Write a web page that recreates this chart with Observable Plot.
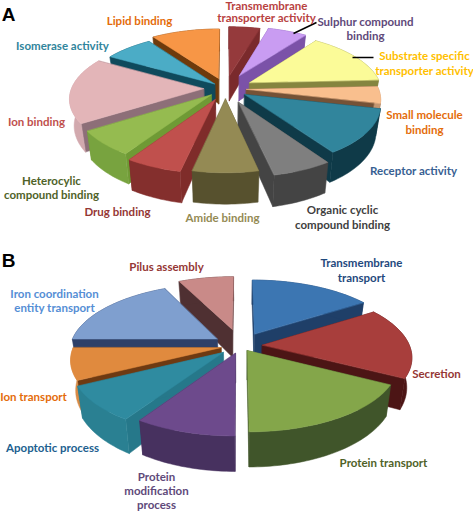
<!DOCTYPE html>
<html><head><meta charset="utf-8">
<script src="https://cdn.jsdelivr.net/npm/d3@7"></script>
<script src="https://cdn.jsdelivr.net/npm/@observablehq/plot@0.6"></script>
<style>html,body{margin:0;padding:0;background:#fff}</style>
</head><body><div id="chart"></div>
<script>
// Panel A: molecular function shares (%)
const categoriesA = ["Transmembrane transporter activity","Sulphur compound binding","Substrate specific transporter activity","Small molecule binding","Receptor activity","Organic cyclic compound binding","Amide binding","Drug binding","Heterocylic compound binding","Ion binding","Isomerase activity","Lipid binding"];
const valuesA = [4.4,5.6,14.2,4.4,11.9,6.1,6.7,5.8,6.7,17.5,6.9,9.7];
const explodeA = [30,33,28,21,23,32,23,26,20,22,15,24];
const topColorsA = ["#953a3c","#c99cf2","#fbfb98","#f9bf8e","#31859c","#7f7f7f","#948a54","#c0504d","#95bb50","#e3b5b8","#4bacc6","#f79646"];
const wallColorsA = ["#7a2a2c","#7b52a8","#85853f","#755236","#0f3a48","#444444","#57512e","#7f2c2a","#6f9a35","#8d6f78","#0f4a5c","#6e3a0c"];
const rimColorsA = ["#7a2a2c","#7b52a8","#85853f","#c49670","#0f3a48","#444444","#57512e","#842f2d","#78a33f","#d2a9ae","#0f4a5c","#6e3a0c"];

// Panel B: biological process shares (%)
const categoriesB = ["Transmembrane transport","Secretion","Protein transport","Protein modification process","Apoptotic process","Ion transport","Iron coordination entity transport","Pilus assembly"];
const valuesB = [15.8,16.9,17.2,9.2,8.3,7.5,17.8,7.2];
const explodeB = [30,22,13,18,23,20,28,38];
const topColorsB = ["#3c76b2","#a83e3c","#84a64a","#6d4a8c","#2f8ba0","#e08a3e","#7f9fcf","#c98a88"];
const wallColorsB = ["#1f3f68","#4c1515","#40552a","#47315f","#26788a","#6e3a12","#2e4068","#4f3032"];
const rimColorsB = ["#1f3f68","#4c1515","#40552a","#47315f","#2a8092","#d88a45","#2e4068","#4f3032"];

// Text of the labels, one row per line
const labelTexts = ["Transmembrane","transporter activity","Sulphur compound","binding","Substrate specific","transporter activity","Small molecule","binding","Receptor activity","Organic cyclic","compound binding","Amide binding","Drug binding","Heterocylic","compound binding","Ion binding","Isomerase activity","Lipid binding","Pilus assembly","Transmembrane","transport","Iron coordination","entity transport","Secretion","Ion transport","Protein transport","Apoptotic process","Protein","modification","process"];
const labelColors = ["#b8423f","#b8423f","#60497a","#60497a","#ffc000","#ffc000","#e46c0a","#e46c0a","#376092","#404040","#404040","#948a54","#953735","#4f6228","#4f6228","#c0504d","#31859c","#e46c0a","#953735","#1f497d","#1f497d","#558ed5","#558ed5","#953735","#e46c0a","#4f6228","#215f8f","#60497a","#60497a","#60497a"];

// Layout (not data)
const labelX = [266,266,365,365,424,424,424,424,413,342,342,222,117,51,51,36,62,139,166,361,361,54,54,436,33,383,52,156,156,156];
const labelY = [6,18,22,36,56,71,115,130,171,210,225,218,212,181,195,122,46,21,267,263,278,294,308,374,397,463,448,477,491,505];
const panelLetters = ["A","B"], letterX = [8,8], letterY = [14,260];
const leaderX1 = [293,352], leaderY1 = [33,57], leaderX2 = [316,373], leaderY2 = [22,57];
const panelA = {cx:225, cy:88, R:132, k:0.45, d:900, h:26};
const panelB = {cx:240, cy:345, R:147, k:0.45, d:900, h:29};

function slices(prefix, values, explode, tops, walls, rims, g) {
  const total = d3.sum(values), rows = [];
  const P = (px, pz, low) => {
    const s = g.d / (g.d - pz);
    return {x: g.cx + px * s * (low ? 0.97 : 1), y: g.cy + pz * g.k * s + (low ? g.h * s : 0)};
  };
  let acc = 0;
  const items = values.map((v, i) => {
    const a0 = acc / total * 2 * Math.PI; acc += v;
    const a1 = acc / total * 2 * Math.PI, m = (a0 + a1) / 2;
    return {i, a0, a1, m, ax: explode[i] * Math.sin(m), az: -explode[i] * Math.cos(m)};
  });
  items.sort((a, b) => -Math.cos(a.m) - -Math.cos(b.m));
  for (const t of items) {
    const n = Math.max(4, Math.ceil((t.a1 - t.a0) * 40)), arc = [];
    for (let j = 0; j <= n; j++) {
      const a = t.a0 + (t.a1 - t.a0) * j / n;
      arc.push([t.ax + g.R * Math.sin(a), t.az - g.R * Math.cos(a)]);
    }
    const add = (suffix, pts, fill) => pts.forEach(p => rows.push({id: prefix + t.i + suffix, x: p.x, y: p.y, fill}));
    const apexT = P(t.ax, t.az, false), apexB = P(t.ax, t.az, true);
    const e0 = arc[0], e1 = arc[n];
    add("w0", [apexT, P(e0[0], e0[1], false), P(e0[0], e0[1], true), apexB], walls[t.i]);
    add("w1", [apexT, P(e1[0], e1[1], false), P(e1[0], e1[1], true), apexB], walls[t.i]);
    add("r", [...arc.map(p => P(p[0], p[1], false)), ...arc.slice().reverse().map(p => P(p[0], p[1], true))], rims[t.i]);
    add("t", [apexT, ...arc.map(p => P(p[0], p[1], false))], tops[t.i]);
  }
  return rows;
}

const polys = [
  ...slices("a", valuesA, explodeA, topColorsA, wallColorsA, rimColorsA, panelA),
  ...slices("b", valuesB, explodeB, topColorsB, wallColorsB, rimColorsB, panelB)
];
const labels = labelTexts.map((text, i) => ({text, color: labelColors[i], x: labelX[i], y: labelY[i]}));
const letters = panelLetters.map((text, i) => ({text, x: letterX[i], y: letterY[i]}));
const leaders = leaderX1.map((x1, i) => ({x1, y1: leaderY1[i], x2: leaderX2[i], y2: leaderY2[i]}));

const chart = Plot.plot({
  width: 473, height: 511, margin: 0,
  style: {background: "#fff"},
  x: {domain: [0, 473], range: [0, 473], axis: null},
  y: {domain: [0, 511], range: [0, 511], axis: null},
  color: {type: "identity"},
  marks: [
    Plot.line(polys, {x: "x", y: "y", z: "id", fill: "fill", stroke: "fill", strokeWidth: 0.5, curve: "linear-closed"}),
    Plot.link(leaders, {x1: "x1", y1: "y1", x2: "x2", y2: "y2", stroke: "#000", strokeWidth: 1.5}),
    Plot.text(labels, {x: "x", y: "y", text: "text", fill: "color", fontFamily: "Lato", fontWeight: "bold", fontSize: 11.5, textAnchor: "middle"}),
    Plot.text(letters, {x: "x", y: "y", text: "text", fill: "#000", fontFamily: "Liberation Sans", fontWeight: "bold", fontSize: 19})
  ]
});
document.getElementById("chart").appendChild(chart);
</script></body></html>
